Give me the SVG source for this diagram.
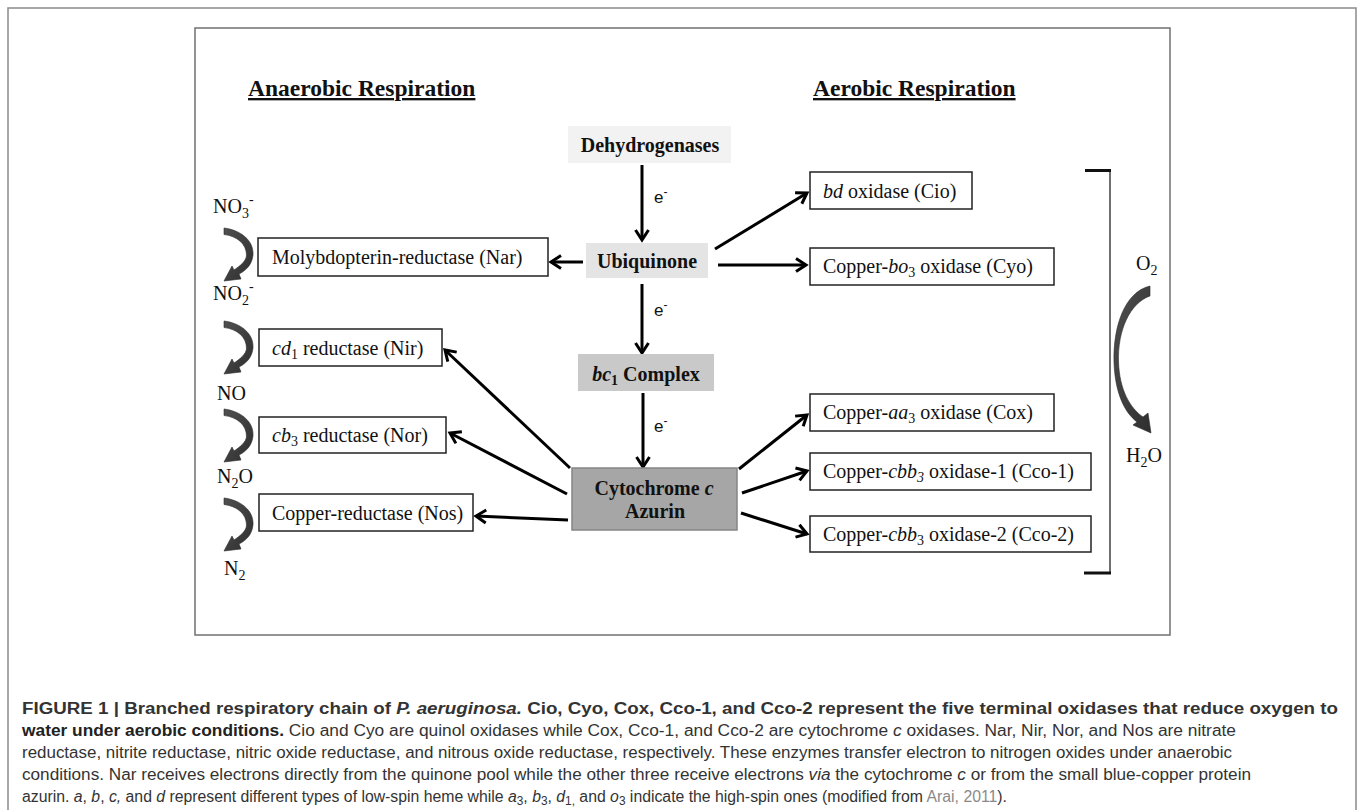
<svg xmlns="http://www.w3.org/2000/svg" width="1360" height="810" viewBox="0 0 1360 810">
<style>
.t{font-family:"Liberation Serif","Times New Roman",serif;font-size:20px;fill:#111}
.b{font-weight:bold}
.h{font-family:"Liberation Serif","Times New Roman",serif;font-size:23.5px;font-weight:bold;fill:#111;text-decoration:underline}
.box{fill:#fff;stroke:#222;stroke-width:1.5}
.conn{stroke:#000;stroke-width:3;fill:none;marker-end:url(#ah)}
.cap{font-family:"Liberation Sans",Arial,sans-serif;font-size:16px;fill:#333}
.curv{fill:url(#cg);stroke:#2a2a2a;stroke-width:0.6}
.e{font-family:"Liberation Sans",Arial,sans-serif;font-size:17px;fill:#111}
</style>
<defs>
<marker id="ah" markerUnits="userSpaceOnUse" markerWidth="18" markerHeight="18" viewBox="0 0 18 18" refX="15" refY="9" orient="auto">
<path d="M5,2.5 L15,9 L5,15.5" fill="none" stroke="#000" stroke-width="3"/>
</marker>
<linearGradient id="cg" x1="0" y1="0" x2="1" y2="1">
<stop offset="0" stop-color="#505050"/>
<stop offset="1" stop-color="#2e2e2e"/>
</linearGradient>
<path id="la" d="M0,0 C16,2 30,12 29,27 C28,36 23,42 15,46 L17,51 L0,53 L8,38 L10,42 C16,38 22.5,33 22.5,27 C22.5,16 13,8 0,6.5 Z"/>
</defs>
<rect width="1360" height="810" fill="#fff"/>
<rect x="8" y="8" width="1348" height="830" fill="none" stroke="#8a8a8a" stroke-width="1.5"/>
<rect x="195" y="28" width="975" height="607" fill="#fff" stroke="#707070" stroke-width="1.5"/>

<text class="h" x="248" y="96">Anaerobic Respiration</text>
<text class="h" x="813" y="96">Aerobic Respiration</text>

<g id="connectors">
<path class="conn" d="M642,165 L642,240"/>
<path class="conn" d="M583,262 L551,262"/>
<path class="conn" d="M715,249 L807,193"/>
<path class="conn" d="M718,265 L806,265"/>
<path class="conn" d="M642,284 L642,353"/>
<path class="conn" d="M643,393 L643,467"/>
<path class="conn" d="M570,468 L445,350"/>
<path class="conn" d="M567,494 L450,433"/>
<path class="conn" d="M568,520 L476,516"/>
<path class="conn" d="M739,469 L807,415"/>
<path class="conn" d="M742,493 L807,471"/>
<path class="conn" d="M741,513 L807,534"/>
<text class="e" x="654" y="203">e<tspan dy="-7" font-size="12">-</tspan></text>
<text class="e" x="654" y="316">e<tspan dy="-7" font-size="12">-</tspan></text>
<text class="e" x="654" y="432">e<tspan dy="-7" font-size="12">-</tspan></text>
</g>

<g id="dehydrogenases">
<rect x="568" y="126" width="163" height="37" fill="#f2f2f2"/>
<text class="t b" x="650" y="152" text-anchor="middle">Dehydrogenases</text>
</g>
<g id="ubiquinone">
<rect x="586" y="243" width="122" height="35" fill="#e4e4e4"/>
<text class="t b" x="647" y="268" text-anchor="middle">Ubiquinone</text>
</g>
<g id="bc1">
<rect x="578" y="354" width="136" height="37" fill="#c9c9c9"/>
<text class="t b" x="646" y="381" text-anchor="middle"><tspan font-style="italic">bc</tspan><tspan dy="4" font-size="14">1</tspan><tspan dy="-4"> Complex</tspan></text>
</g>
<g id="cytochrome">
<rect x="572" y="468" width="165" height="62" fill="#a6a6a6" stroke="#858585" stroke-width="1.5"/>
<text class="t b" x="654" y="495" text-anchor="middle">Cytochrome <tspan font-style="italic">c</tspan></text>
<text class="t b" x="655" y="518" text-anchor="middle">Azurin</text>
</g>

<g id="nar">
<rect class="box" x="258" y="238" width="290" height="38"/>
<text class="t" x="272" y="264">Molybdopterin-reductase (Nar)</text>
</g>
<g id="nir">
<rect class="box" x="259" y="329" width="183" height="37"/>
<text class="t" x="272" y="355"><tspan font-style="italic">cd</tspan><tspan dy="4" font-size="14">1</tspan><tspan dy="-4"> reductase (Nir)</tspan></text>
</g>
<g id="nor">
<rect class="box" x="259" y="417" width="187" height="36"/>
<text class="t" x="272" y="442"><tspan font-style="italic">cb</tspan><tspan dy="4" font-size="14">3</tspan><tspan dy="-4"> reductase (Nor)</tspan></text>
</g>
<g id="nos">
<rect class="box" x="259" y="494" width="214" height="37"/>
<text class="t" x="272" y="520">Copper-reductase (Nos)</text>
</g>

<g id="cio">
<rect class="box" x="810" y="172" width="162" height="37"/>
<text class="t" x="823" y="198"><tspan font-style="italic">bd</tspan> oxidase (Cio)</text>
</g>
<g id="cyo">
<rect class="box" x="810" y="248" width="244" height="37"/>
<text class="t" x="823" y="273">Copper-<tspan font-style="italic">bo</tspan><tspan dy="4" font-size="14">3</tspan><tspan dy="-4"> oxidase (Cyo)</tspan></text>
</g>
<g id="cox">
<rect class="box" x="810" y="394" width="244" height="37"/>
<text class="t" x="823" y="419">Copper-<tspan font-style="italic">aa</tspan><tspan dy="4" font-size="14">3</tspan><tspan dy="-4"> oxidase (Cox)</tspan></text>
</g>
<g id="cco1">
<rect class="box" x="810" y="453" width="281" height="37"/>
<text class="t" x="823" y="478">Copper-<tspan font-style="italic">cbb</tspan><tspan dy="4" font-size="14" font-style="italic">3</tspan><tspan dy="-4"> oxidase-1 (Cco-1)</tspan></text>
</g>
<g id="cco2">
<rect class="box" x="810" y="516" width="281" height="36"/>
<text class="t" x="823" y="541">Copper-<tspan font-style="italic">cbb</tspan><tspan dy="4" font-size="14">3</tspan><tspan dy="-4"> oxidase-2 (Cco-2)</tspan></text>
</g>

<g id="nitrogen-chain">
<text class="t" x="213" y="213">NO<tspan dy="5" font-size="14">3</tspan><tspan dy="-14" font-size="14">-</tspan></text>
<text class="t" x="213" y="300">NO<tspan dy="5" font-size="14">2</tspan><tspan dy="-14" font-size="14">-</tspan></text>
<text class="t" x="217" y="400">NO</text>
<text class="t" x="217" y="483">N<tspan dy="5" font-size="14">2</tspan><tspan dy="-5">O</tspan></text>
<text class="t" x="224" y="575">N<tspan dy="5" font-size="14">2</tspan></text>
<use href="#la" class="curv" transform="translate(224,228)"/>
<use href="#la" class="curv" transform="translate(224,321)"/>
<use href="#la" class="curv" transform="translate(224,409)"/>
<use href="#la" class="curv" transform="translate(224,498)"/>
</g>

<g id="oxygen">
<line x1="1110" y1="170" x2="1110" y2="573" stroke="#333" stroke-width="1.4"/>
<line x1="1085" y1="170.5" x2="1111" y2="170.5" stroke="#111" stroke-width="3"/>
<line x1="1084" y1="573" x2="1111" y2="573" stroke="#111" stroke-width="3"/>
<text class="t" x="1136" y="270">O<tspan dy="5" font-size="14">2</tspan></text>
<text class="t" x="1126" y="462">H<tspan dy="5" font-size="14">2</tspan><tspan dy="-5">O</tspan></text>
<path class="curv" d="M1150,286 C1124,292 1113,328 1114,362 C1115,392 1124,412 1137,422 L1133,425 L1151,433 L1148,413 L1143,417 C1130,408 1119.5,390 1118.5,362 C1117.5,330 1130,303 1150,296 Z"/>
</g>

<g id="caption">
<text class="cap" x="22" y="714" textLength="1316" lengthAdjust="spacingAndGlyphs" font-weight="bold" fill="#222">FIGURE 1 | Branched respiratory chain of <tspan font-style="italic">P. aeruginosa.</tspan> Cio, Cyo, Cox, Cco-1, and Cco-2 represent the five terminal oxidases that reduce oxygen to</text>
<text class="cap" x="22" y="736" textLength="1214" lengthAdjust="spacingAndGlyphs"><tspan font-weight="bold" fill="#222">water under aerobic conditions.</tspan> Cio and Cyo are quinol oxidases while Cox, Cco-1, and Cco-2 are cytochrome <tspan font-style="italic">c</tspan> oxidases. Nar, Nir, Nor, and Nos are nitrate</text>
<text class="cap" x="22" y="758" textLength="1210" lengthAdjust="spacingAndGlyphs">reductase, nitrite reductase, nitric oxide reductase, and nitrous oxide reductase, respectively. These enzymes transfer electron to nitrogen oxides under anaerobic</text>
<text class="cap" x="22" y="780" textLength="1229" lengthAdjust="spacingAndGlyphs">conditions. Nar receives electrons directly from the quinone pool while the other three receive electrons <tspan font-style="italic">via</tspan> the cytochrome <tspan font-style="italic">c</tspan> or from the small blue-copper protein</text>
<text class="cap" x="22" y="802" textLength="985" lengthAdjust="spacingAndGlyphs">azurin. <tspan font-style="italic">a</tspan>, <tspan font-style="italic">b</tspan>, <tspan font-style="italic">c,</tspan> and <tspan font-style="italic">d</tspan> represent different types of low-spin heme while <tspan font-style="italic">a</tspan><tspan dy="3" font-size="12">3</tspan><tspan dy="-3">, </tspan><tspan font-style="italic">b</tspan><tspan dy="3" font-size="12">3</tspan><tspan dy="-3">, </tspan><tspan font-style="italic">d</tspan><tspan dy="3" font-size="12">1,</tspan><tspan dy="-3"> and </tspan><tspan font-style="italic">o</tspan><tspan dy="3" font-size="12">3</tspan><tspan dy="-3"> indicate the high-spin ones (modified from </tspan><tspan fill="#8a8a8a">Arai, 2011</tspan>).</text>
</g>
</svg>
